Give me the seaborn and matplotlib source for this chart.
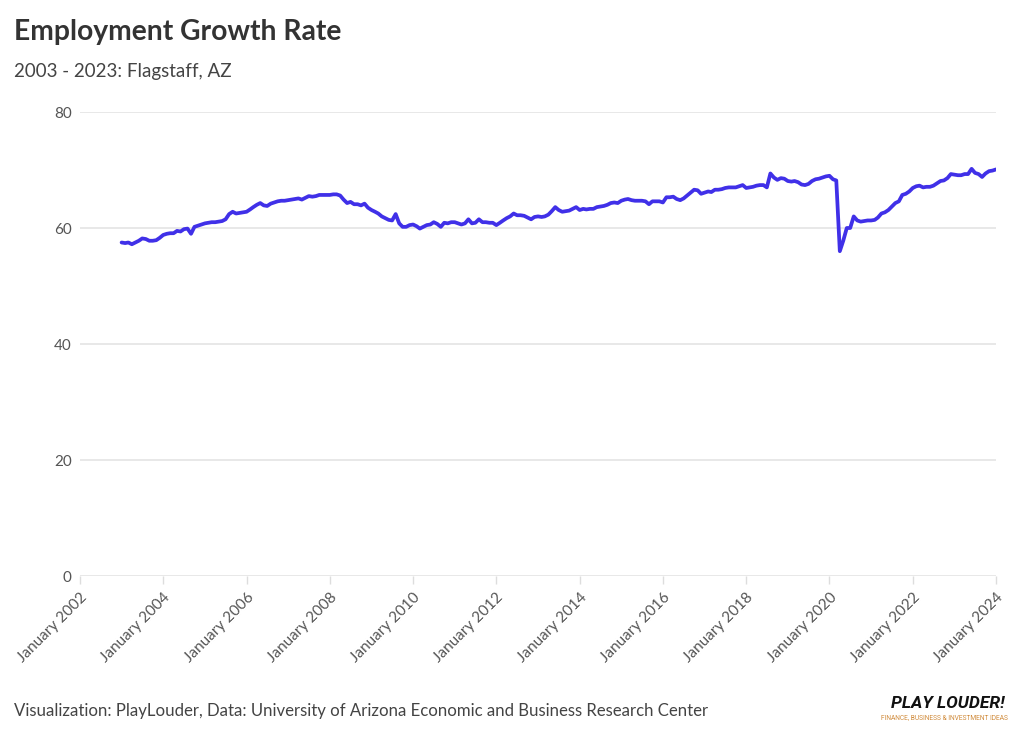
import numpy as np
import pandas as pd
import matplotlib
matplotlib.use("Agg")
import matplotlib.pyplot as plt
import matplotlib.dates as mdates
import seaborn as sns

# ---- data (monthly, Jan 2003 .. Jan 2024) ----
v2003 = [57.5, 57.4, 57.5, 57.2, 57.5, 57.8, 58.2, 58.1, 57.8, 57.8, 57.9, 58.3]
v2004 = [58.8, 59.0, 59.1, 59.1, 59.5, 59.4, 59.8, 59.9, 59.0, 60.2, 60.4, 60.6]
v2005 = [60.8, 60.9, 61.0, 61.0, 61.1, 61.2, 61.5, 62.4, 62.8, 62.5, 62.6, 62.7]
v2006 = [62.8, 63.2, 63.6, 64.0, 64.3, 63.9, 63.8, 64.2, 64.4, 64.6, 64.7, 64.7]
v2007 = [64.8, 64.9, 65.0, 65.1, 64.9, 65.2, 65.5, 65.4, 65.5, 65.7, 65.7, 65.7]
v2008 = [65.7, 65.8, 65.8, 65.6, 64.9, 64.3, 64.5, 64.1, 64.1, 63.9, 64.2, 63.5]
v2009 = [63.1, 62.8, 62.5, 62.0, 61.7, 61.4, 61.3, 62.4, 60.8, 60.2, 60.2, 60.5]
v2010 = [60.6, 60.3, 59.9, 60.2, 60.5, 60.6, 61.0, 60.7, 60.2, 60.9, 60.8, 61.0]
v2011 = [61.0, 60.8, 60.6, 60.8, 61.5, 60.8, 60.9, 61.5, 61.0, 61.0, 60.9, 60.9]
v2012 = [60.5, 60.9, 61.3, 61.7, 62.0, 62.5, 62.2, 62.2, 62.1, 61.8, 61.5, 61.9]
v2013 = [62.0, 61.9, 62.0, 62.3, 62.9, 63.6, 63.1, 62.8, 62.9, 63.0, 63.3, 63.6]
v2014 = [63.1, 63.3, 63.2, 63.3, 63.3, 63.6, 63.7, 63.8, 64.0, 64.3, 64.4, 64.3]
v2015 = [64.7, 64.9, 65.0, 64.8, 64.7, 64.7, 64.7, 64.6, 64.1, 64.6, 64.6, 64.6]
v2016 = [64.4, 65.3, 65.3, 65.4, 65.0, 64.8, 65.1, 65.6, 66.1, 66.6, 66.5, 65.9]
v2017 = [66.1, 66.3, 66.2, 66.6, 66.6, 66.7, 66.9, 67.0, 67.0, 67.0, 67.2, 67.4]
v2018 = [66.9, 67.0, 67.1, 67.3, 67.4, 67.4, 67.0, 69.4, 68.7, 68.3, 68.6, 68.5]
v2019 = [68.1, 68.0, 68.1, 67.9, 67.5, 67.4, 67.6, 68.1, 68.4, 68.5, 68.7, 68.9]
v2020 = [69.0, 68.4, 68.2, 56.0, 57.8, 60.0, 60.0, 62.0, 61.3, 61.1, 61.2, 61.3]
v2021 = [61.3, 61.4, 61.8, 62.5, 62.7, 63.1, 63.7, 64.3, 64.6, 65.7, 65.9, 66.3]
v2022 = [66.9, 67.2, 67.3, 67.0, 67.1, 67.1, 67.3, 67.7, 68.1, 68.2, 68.6, 69.3]
v2023 = [69.2, 69.1, 69.1, 69.3, 69.3, 70.2, 69.5, 69.3, 68.8, 69.4, 69.8, 69.9]
v2024 = [70.1]

yearly = [v2003, v2004, v2005, v2006, v2007, v2008, v2009, v2010, v2011, v2012,
          v2013, v2014, v2015, v2016, v2017, v2018, v2019, v2020, v2021, v2022,
          v2023, v2024]
values = [v for yr in yearly for v in yr]
dates = pd.date_range("2003-01-01", periods=len(values), freq="MS")
df = pd.DataFrame({"date": dates, "rate": values})

y_ticks = [0, 20, 40, 60, 80]
tick_years = list(range(2002, 2025, 2))

title = "Employment Growth Rate"
subtitle = "2003 - 2023: Flagstaff, AZ"
caption = "Visualization: PlayLouder, Data: University of Arizona Economic and Business Research Center"

# ---- style ----
sns.set_theme(style="white")
plt.rcParams["font.family"] = ["Lato", "DejaVu Sans"]

fig = plt.figure(figsize=(10.24, 7.40), dpi=100)
ax = fig.add_axes([80 / 1024, 1 - 576 / 740, (996 - 80) / 1024, (576 - 112) / 740])

sns.lineplot(data=df, x="date", y="rate", ax=ax, color="#4030e8", linewidth=2.7)

ax.set_ylim(0, 80)
ax.set_xlim(pd.Timestamp("2002-01-01"), pd.Timestamp("2024-01-01"))
ax.set_yticks(y_ticks)
ax.set_yticklabels([str(t) for t in y_ticks])
ax.set_xticks([pd.Timestamp(f"{y}-01-01") for y in tick_years])
ax.set_xticklabels([f"January {y}" for y in tick_years], rotation=45,
                   ha="right", rotation_mode="anchor")
ax.set_xlabel("")
ax.set_ylabel("")

for s in ["top", "right", "left", "bottom"]:
    ax.spines[s].set_visible(False)
ax.grid(axis="y", color="#e6e6e6", linewidth=1.3)
ax.grid(axis="x", visible=False)
ax.set_axisbelow(True)

ax.tick_params(axis="y", length=0, pad=6, labelsize=11, labelcolor="#555555")
ax.tick_params(axis="x", length=6, width=1, color="#dddddd", pad=4,
               labelsize=11, labelcolor="#555555", bottom=True)

fig.text(14 / 1024, 1 - 32 / 740, title, fontsize=20.3, fontweight="bold",
         color="#333333", va="center", ha="left")
fig.text(14 / 1024, 1 - 71 / 740, subtitle, fontsize=13.5, color="#444444",
         va="center", ha="left")
fig.text(14 / 1024, 1 - 711 / 740, caption, fontsize=12.1, color="#444444",
         va="center", ha="left")

fig.text(1005 / 1024, 1 - 703 / 740, "PLAY LOUDER!", fontsize=12.5,
         fontweight="bold", style="italic", color="#111111", ha="right", va="center",
         family=["Liberation Sans Narrow", "Roboto", "DejaVu Sans"])
fig.text(1008 / 1024, 1 - 718 / 740, "FINANCE, BUSINESS & INVESTMENT IDEAS",
         fontsize=4.8, color="#d08a3a", ha="right", va="center",
         family=["Liberation Sans Narrow", "Roboto", "DejaVu Sans"])

fig.savefig("out.png", dpi=100, facecolor="white")
